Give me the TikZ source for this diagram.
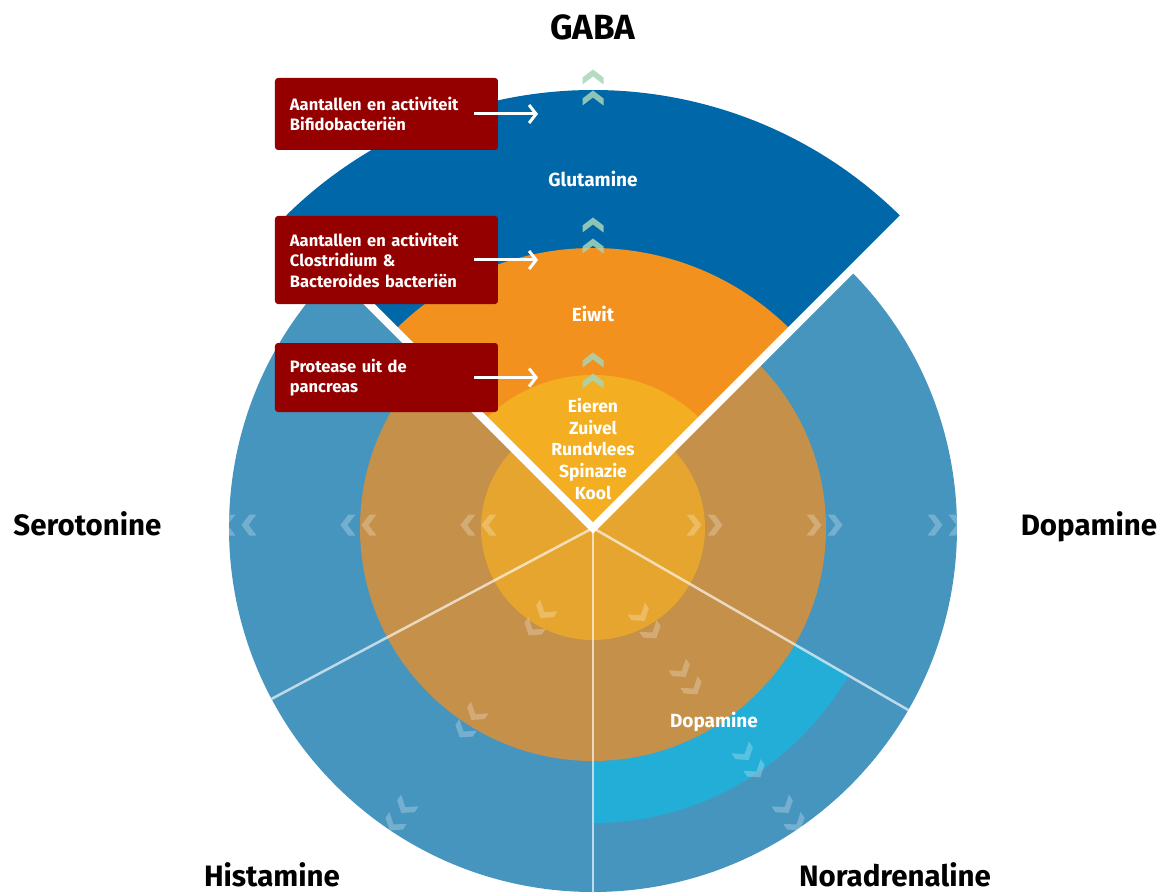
\documentclass[tikz,border=0pt]{standalone}
\usepackage{fontspec}
\setmainfont{Fira Sans}
\usetikzlibrary{arrows.meta}

\definecolor{ringbl}{HTML}{4695BF}
\definecolor{cyanbl}{HTML}{23AED8}
\definecolor{ringbr}{HTML}{C4904A}
\definecolor{corebr}{HTML}{E6A52E}
\definecolor{gababl}{HTML}{0068A8}
\definecolor{gabaor}{HTML}{F3911F}
\definecolor{gabaye}{HTML}{F3AF21}
\definecolor{boxred}{HTML}{940000}
\definecolor{chevgreen}{HTML}{A8D5B5}

\begin{document}
\begin{tikzpicture}[x=1pt, y=1pt,
  lab/.style={font=\fontsize{29.5}{31}\selectfont\bfseries, text=black, anchor=base},
  inlab/.style={font=\fontsize{19}{21}\selectfont\bfseries, text=white, align=center},
  box/.style={fill=boxred, rounded corners=3pt, text=white, align=left,
              text width=193pt, inner xsep=15pt, inner ysep=0pt,
              font=\fontsize{16.5}{20.5}\selectfont\bfseries},
  arr/.style={-{Straight Barb[length=7pt, width=18pt]}, draw=white, line width=3pt},
  divider/.style={draw=white, draw opacity=0.65, line width=2.5pt},
  gap/.style={draw=white, line width=8pt},
  chev/.style={fill=white, fill opacity=0.25},
  gchev/.style={fill=chevgreen, fill opacity=0.85},
  chevs/.pic={
    \foreach \d in {-10.5,10.5}
      \path[pic actions, shift={(\d,0)}] (-7,10.5) -- (0,10.5) -- (8,0) -- (0,-10.5)
        -- (-7,-10.5) -- (1,0) -- cycle;
  }
]
\useasboundingbox (-593,-364) rectangle (579,528);

% rings
\fill[ringbl] (0,0) circle (364);
\fill[cyanbl] (-90:233) arc (-90:-30:233) -- (-30:295) arc (-30:-90:295) -- cycle;
\fill[ringbr] (0,0) circle (233);
\fill[corebr] (0,0) circle (112);
\foreach \a in {208,270,330}
  \draw[divider] (0,0) -- (\a:364);

% GABA sector
\fill[gababl] (0,0) -- (45:438) arc (45:135:438) -- cycle;
\fill[gabaor] (0,0) -- (45:280) arc (45:135:280) -- cycle;
\fill[gabaye] (0,0) -- (45:153) arc (45:135:153) -- cycle;
\draw[gap] (135:446) -- (0,0) -- (45:446);

% chevrons
\foreach \y in {440,292,157}
  \pic[gchev, rotate=90] at (0,\y) {chevs};
\foreach \x in {-354,-234,-114}
  \pic[chev, rotate=180] at (\x,3) {chevs};
\foreach \x in {111,231,352}
  \pic[chev] at (\x,3) {chevs};
\foreach \p in {(-54,-92),(-123,-194),(-193,-287)}
  \pic[chev, rotate=236] at \p {chevs};
\foreach \p in {(53,-95),(94,-151),(157,-234),(197,-287)}
  \pic[chev, rotate=-56] at \p {chevs};

% labels
\node[lab, font=\fontsize{35}{37}\selectfont\bfseries] (gaba) at (0,488) {GABA};
\node[lab] (sero) at (-505.5,-7) {Serotonine};
\node[lab] (dopa) at (496,-7) {Dopamine};
\node[lab] (hist) at (-321,-358) {Histamine};
\node[lab] (nora) at (302,-358) {Noradrenaline};

\node[inlab, anchor=base] (glut) at (0,341) {Glutamine};
\node[inlab, anchor=base] (eiwit) at (0,207) {Eiwit};
\node[inlab, font=\fontsize{17.5}{21.75}\selectfont\bfseries] (food) at (0,79) {Eieren\\Zuivel\\Rundvlees\\Spinazie\\Kool};
\node[inlab, anchor=base] (dopin) at (121,-199) {Dopamine};

% bacteria boxes
\node[box, minimum height=72pt] (bif) at (-206.5,414) {Aantallen en activiteit\\Bifidobacteriën};
\node[box, minimum height=88pt] (clos) at (-206.5,268) {Aantallen en activiteit\\Clostridium \&\\Bacteroides bacteriën};
\node[box, minimum height=69pt] (prot) at (-206.5,150.5) {Protease uit de\\pancreas};

\coordinate (tbif) at (-55,414);
\coordinate (tclos) at (-55,268);
\coordinate (tprot) at (-55,150.5);
\draw[arr] ([xshift=-24pt]bif.east) -- (tbif);
\draw[arr] ([xshift=-24pt]clos.east) -- (tclos);
\draw[arr] ([xshift=-24pt]prot.east) -- (tprot);
\end{tikzpicture}
\end{document}
